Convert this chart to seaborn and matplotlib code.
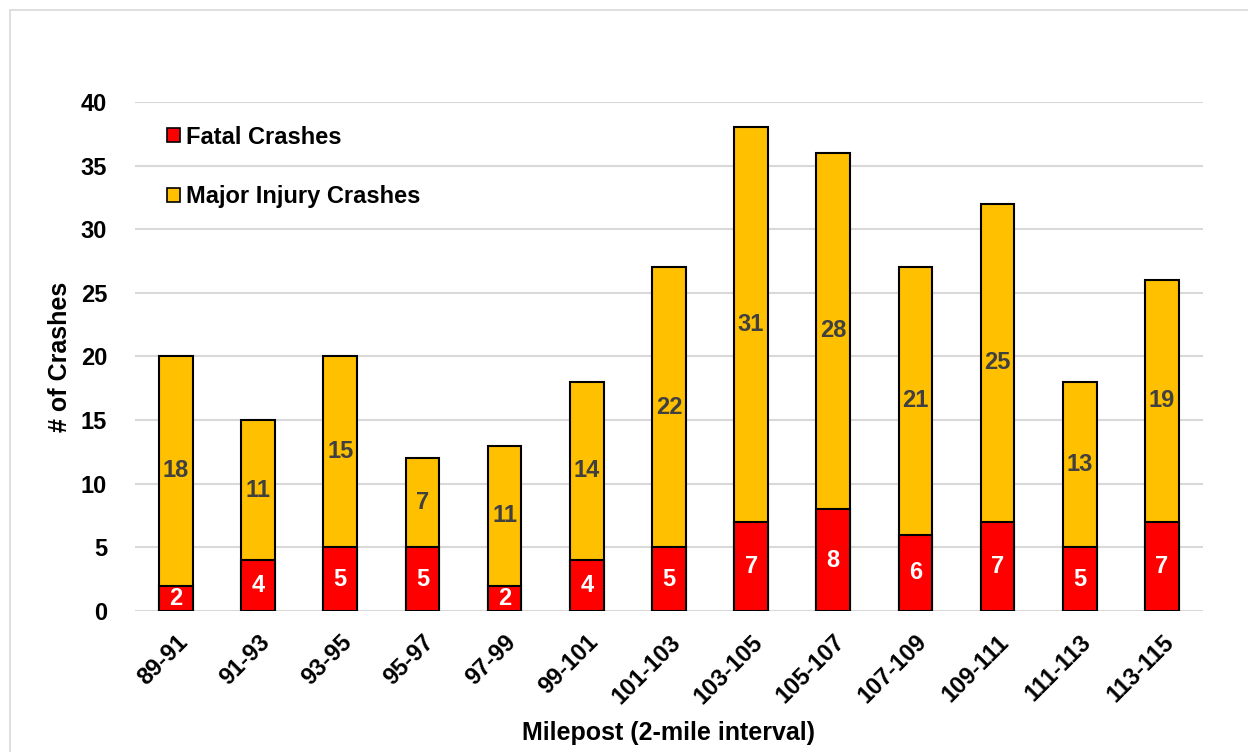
import matplotlib
matplotlib.use("Agg")
import matplotlib.pyplot as plt
import seaborn as sns
import pandas as pd
from matplotlib.patches import Patch, Rectangle

sns.set_style("white")
plt.rcParams['font.family'] = ['Liberation Sans', 'DejaVu Sans']
plt.rcParams['font.weight'] = 'bold'
plt.rcParams['text.color'] = 'black'
plt.rcParams['axes.labelcolor'] = 'black'
plt.rcParams['xtick.color'] = 'black'
plt.rcParams['ytick.color'] = 'black'

# data
mileposts = ["89-91", "91-93", "93-95", "95-97", "97-99", "99-101", "101-103",
             "103-105", "105-107", "107-109", "109-111", "111-113", "113-115"]
fatal = [2, 4, 5, 5, 2, 4, 5, 7, 8, 6, 7, 5, 7]
major = [18, 11, 15, 7, 11, 14, 22, 31, 28, 21, 25, 13, 19]

df = pd.DataFrame({"milepost": mileposts, "fatal": fatal, "major": major})
df["total"] = df["fatal"] + df["major"]

red = "#ff0000"
gold = "#ffc000"

fig = plt.figure(figsize=(12.48, 7.52), dpi=100)
ax = fig.add_axes([0.108, 0.1875, 0.856, 0.677])

# stacked bars: totals in gold first, fatal in red on top
sns.barplot(data=df, x="milepost", y="total", color=gold, saturation=1,
            width=0.41, edgecolor="k", linewidth=1.5, ax=ax, zorder=3)
sns.barplot(data=df, x="milepost", y="fatal", color=red, saturation=1,
            width=0.41, edgecolor="k", linewidth=1.5, ax=ax, zorder=4)

# data labels
for i, (f, m) in enumerate(zip(fatal, major)):
    ax.text(i, f / 2, str(f), ha="center", va="center", color="white",
            fontsize=17, fontweight="bold", zorder=5)
    ax.text(i, f + m / 2, str(m), ha="center", va="center", color="#404040",
            fontsize=17, fontweight="bold", zorder=5)

ax.set_ylim(0, 40)
ax.set_xlim(-0.5, len(mileposts) - 0.5)
ax.set_yticks(range(0, 41, 5))
ax.yaxis.grid(True, color="#d9d9d9", linewidth=1.5, zorder=0)
ax.set_axisbelow(True)
for s in ax.spines.values():
    s.set_visible(False)
ax.tick_params(axis="both", length=0, labelsize=17)
ax.tick_params(axis="y", pad=20)
ax.tick_params(axis="x", pad=14)
plt.setp(ax.get_xticklabels(), rotation=45, ha="right", rotation_mode="anchor",
         fontweight="bold")
plt.setp(ax.get_yticklabels(), fontweight="bold")
ax.set_xlabel("Milepost (2-mile interval)", fontsize=18, fontweight="bold", labelpad=9)
ax.set_ylabel("# of Crashes", fontsize=18, fontweight="bold", labelpad=6)

# legend
handles = [Patch(facecolor=red, edgecolor="k", linewidth=1.2, label="Fatal Crashes"),
           Patch(facecolor=gold, edgecolor="k", linewidth=1.2, label="Major Injury Crashes")]
leg = ax.legend(handles=handles, loc="upper left", bbox_to_anchor=(0.01, 0.995),
                frameon=False, prop={"size": 17, "weight": "bold"},
                handlelength=0.55, handleheight=0.55, handletextpad=0.25,
                labelspacing=1.55)

# figure border
border = Rectangle((10 / 1248, -0.01), 1.0, 1 - 10 / 752 + 0.01, transform=fig.transFigure,
                   fill=False, edgecolor="#d9d9d9", linewidth=1.2)
border.set_clip_on(False)
fig.patches.append(border)

plt.savefig("out.png", dpi=100)
